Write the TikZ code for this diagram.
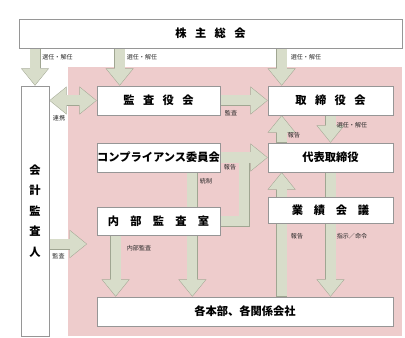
\documentclass[tikz,border=0pt]{standalone}
\usepackage{fontspec}
\setmainfont{Noto Sans CJK JP}
\usetikzlibrary{arrows.meta,calc}
\pgfdeclarelayer{back}
\pgfdeclarelayer{bandedge}
\pgfdeclarelayer{bandfill}
\pgfsetlayers{back,bandedge,bandfill,main}
\definecolor{pinkbg}{RGB}{238,204,204}
\definecolor{bandgreen}{RGB}{216,221,202}
\definecolor{bandline}{RGB}{160,166,146}
\definecolor{boxline}{RGB}{150,150,150}
\newcommand{\kgap}[1][.75em]{\hspace{#1}}
\newcommand{\band}[2]{%
  \begin{pgfonlayer}{bandedge}\draw[bandedge,#1] #2;\end{pgfonlayer}%
  \begin{pgfonlayer}{bandfill}\draw[bandfill,#1] #2;\end{pgfonlayer}}

\begin{document}
\begin{tikzpicture}[
  x=0.25mm, y=-0.25mm,
  box/.style={draw=boxline, fill=white, line width=0.5pt, inner sep=0pt,
    font=\fontsize{8}{9.6}\selectfont\bfseries},
  lbl/.style={inner sep=0pt, text=black!85, font=\fontsize{4.3}{5}\selectfont},
  bandedge/.style={color=bandline, line width=2.75mm,
    >={Triangle[length=4.33mm, width=7.03mm, line width=0pt]}},
  bandfill/.style={color=bandgreen, line width=2.5mm, shorten >=0.2mm, shorten <=0.2mm,
    >={Triangle[length=4mm, width=6.5mm, line width=0pt]}}
]
\useasboundingbox (0,0) rectangle (405,338);
\begin{pgfonlayer}{back}
  \fill[pinkbg] (68,67) rectangle (402,336);
\end{pgfonlayer}

\node[box, minimum width=95.75mm, minimum height=7.25mm] (kabunushi) at (210.5,33.5)
  {株\kgap 主\kgap 総\kgap 会};
\node[box, minimum width=7mm, minimum height=62.5mm, align=center,
  font=\fontsize{8}{14.5}\selectfont\bfseries] (kaikei) at (35,211)
  {会\\計\\監\\査\\人};
\node[box, minimum width=30.75mm, minimum height=7.25mm] (kansayaku) at (158.5,100.5)
  {監\kgap 査\kgap 役\kgap 会};
\node[box, minimum width=31.25mm, minimum height=7.25mm] (torishimariyaku) at (330.5,100.5)
  {取\kgap 締\kgap 役\kgap 会};
\node[box, minimum width=30.75mm, minimum height=7.25mm] (compliance) at (158.5,157.5)
  {コンプライアンス委員会};
\node[box, minimum width=31.25mm, minimum height=7.25mm] (daihyo) at (330.5,157.5)
  {代表取締役};
\node[box, minimum width=30.75mm, minimum height=7mm] (naibu) at (158.5,221)
  {内\kgap[1em]部\kgap[1em]監\kgap[1em]査\kgap[1em]室};
\node[box, minimum width=31.25mm, minimum height=6.5mm] (gyoseki) at (330.5,210)
  {業\kgap[.95em]績\kgap[.95em]会\kgap[.95em]議};
\node[box, minimum width=74mm, minimum height=7.25mm] (kakuhonbu) at (245,311.5)
  {各本部、各関係会社};

\coordinate (kanL) at ($(kansayaku.north west)+(23,0)$);
\coordinate (toriL) at ($(torishimariyaku.north west)+(14,0)$);
\coordinate (daiL) at ($(daihyo.south west)+(14,0)$);
\coordinate (ts) at ($(compliance.south east)+(-28,0)$);
\coordinate (nb) at ($(naibu.south west)+(19,0)$);
\coordinate (joint) at ($(compliance.east)+(24,0)$);
\coordinate (audit) at (87,244);

\band{->}{(kabunushi.south -| kaikei) -- (kaikei.north)}
\band{->}{(kabunushi.south -| kanL) -- (kanL)}
\band{->}{(kabunushi.south -| toriL) -- (toriL)}
\band{<->}{(kaikei.east |- kansayaku) -- (kansayaku.west)}
\band{->}{(kansayaku.east) -- (torishimariyaku.west)}
\band{->}{(torishimariyaku.south) -- (daihyo.north)}
\band{->}{(daihyo.north -| toriL) -- (torishimariyaku.south -| toriL)}
\band{}{(naibu.east) -| (joint)}
\band{->}{(compliance.east) -- (daihyo.west)}
\band{->}{(ts) -- (ts |- kakuhonbu.north)}
\band{->}{(nb) -- (nb |- kakuhonbu.north)}
\band{->}{(kakuhonbu.north -| daiL) -- (daiL)}
\band{->}{(daihyo.south) -- (daihyo.south |- kakuhonbu.north)}
\band{->}{(kaikei.east |- audit) -- (audit)}

\node[lbl] (sennin1) at (57.5,57) {選任・解任};
\node[lbl] (sennin2) at (142,57) {選任・解任};
\node[lbl] (sennin3) at (306,57) {選任・解任};
\node[lbl] (renkei) at (59,118) {連携};
\node[lbl] (kansa1) at (231,113) {監査};
\node[lbl] (sennin4) at (352,125) {選任・解任};
\node[lbl] (hokoku1) at (294,135) {報告};
\node[lbl] (hokoku2) at (230,167) {報告};
\node[lbl] (tousei) at (206,181) {統制};
\node[lbl] (naibukansa) at (139,248) {内部監査};
\node[lbl] (kansa2) at (58.5,256) {監査};
\node[lbl] (hokoku3) at (297,236) {報告};
\node[lbl] (shiji) at (352,236) {指示／命令};
\end{tikzpicture}
\end{document}
